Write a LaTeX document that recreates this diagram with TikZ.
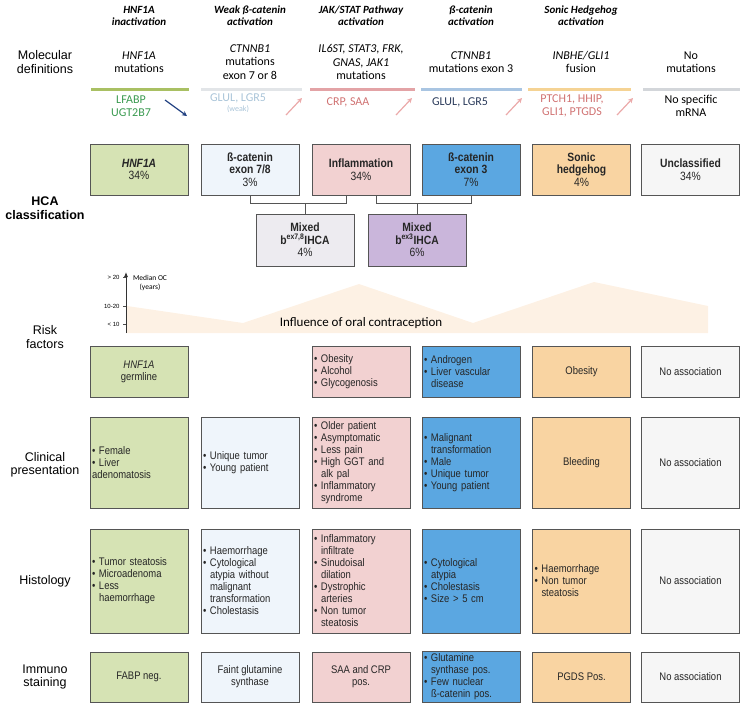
\documentclass[tikz,border=0pt]{standalone}
\usepackage{fontspec}
\setmainfont{Liberation Sans}
\newfontfamily\nar[FakeStretch=0.86]{Liberation Sans}
\newfontfamily\calfont{Carlito}
\usetikzlibrary{arrows.meta}
\definecolor{cgreen}{HTML}{D6E3B4}
\definecolor{cltblue}{HTML}{EFF5FB}
\definecolor{cpink}{HTML}{F2D1D1}
\definecolor{cblue}{HTML}{5BA7E1}
\definecolor{corange}{HTML}{F9D4A2}
\definecolor{cgray}{HTML}{F6F6F6}
\definecolor{cmix}{HTML}{EDEBF0}
\definecolor{cpurple}{HTML}{CAB6DB}
\definecolor{cborder}{HTML}{555555}
\definecolor{lgreen}{HTML}{A9C063}
\definecolor{lgray}{HTML}{E2E5E8}
\definecolor{lpink}{HTML}{E3A3A6}
\definecolor{lblue}{HTML}{A9C5E2}
\definecolor{lorange}{HTML}{F5D394}
\definecolor{lgray2}{HTML}{D3D6DA}
\definecolor{tgreen}{HTML}{3A9A50}
\definecolor{tlblue}{HTML}{A9C4D8}
\definecolor{tpink}{HTML}{D07272}
\definecolor{tnavy}{HTML}{2A3A5A}
\definecolor{apink}{HTML}{EBAAAA}
\definecolor{anavy}{HTML}{1F3F80}
\definecolor{ocfill}{HTML}{FDF1E4}
\newcommand{\bl}{\makebox[7pt][l]{\textbullet}}
\newcommand{\ind}{\hspace*{7pt}}
\tikzset{
  x=1pt,y=-1pt,
  cell/.style={draw=cborder,line width=1pt,minimum width=98pt,inner sep=2pt,font=\nar\fontsize{11}{12}\selectfont,text=black!85},
  cls/.style={cell,minimum height=51pt,font=\nar\fontsize{12}{12.5}\selectfont,align=center},
  lst/.style={cell,align=left,text width=94pt},
  ctr/.style={cell,align=center},
  rowlab/.style={font=\fontsize{12.5}{13.5}\selectfont,align=center},
  hdr/.style={font=\calfont\bfseries\itshape\fontsize{11}{12}\selectfont,align=center},
  mol/.style={font=\calfont\fontsize{12}{13.5}\selectfont,align=center},
  mk/.style={font=\calfont\fontsize{12}{13}\selectfont,align=center},
  mline/.style={line width=3pt},
  conn/.style={draw=cborder,line width=0.9pt},
  uparr/.style={draw=apink,line width=1.2pt,-{Stealth[length=5pt,width=5pt]}},
  tick/.style={font=\fontsize{6}{6}\selectfont,anchor=east}
}
\begin{document}
\begin{tikzpicture}
\useasboundingbox (0,0) rectangle (741,705);
% headers
\node[hdr] (h1) at (139,16) {HNF1A\\inactivation};
\node[hdr] (h2) at (250,16) {Weak ß-catenin\\activation};
\node[hdr] (h3) at (361,16) {JAK/STAT Pathway\\activation};
\node[hdr] (h4) at (471,16) {ß-catenin\\activation};
\node[hdr] (h5) at (581,16) {Sonic Hedgehog\\activation};
% row labels
\node[rowlab] (r1) at (45,62) {Molecular\\definitions};
\node[rowlab] (r2) at (45,208) {\bfseries HCA\\\bfseries classification};
\node[rowlab] (r3) at (45,337) {Risk\\factors};
\node[rowlab] (r4) at (45,465) {Clinical\\presentation};
\node[rowlab] (r5) at (45,581) {Histology};
\node[rowlab] (r6) at (45,677) {Immuno\\staining};
% molecular definitions
\node[mol] (m1) at (139,62) {\itshape HNF1A\\mutations};
\node[mol] (m2) at (250,62) {\itshape CTNNB1\\mutations\\exon 7 or 8};
\node[mol] (m3) at (361,62) {\itshape IL6ST, STAT3, FRK,\\\itshape GNAS, JAK1\\mutations};
\node[mol] (m4) at (471,62) {\itshape CTNNB1\\mutations exon 3};
\node[mol] (m5) at (581,62) {\itshape INBHE/GLI1\\fusion};
\node[mol] (m6) at (691,62) {No\\mutations};
\draw[mline,lgreen] (91,89) -- (189,89);
\draw[mline,lgray] (201,89) -- (302,89);
\draw[mline,lpink] (310,89) -- (415,89);
\draw[mline,lblue] (421,89) -- (522,89);
\draw[mline,lorange] (528,89) -- (631,89);
\draw[mline,lgray2] (643,89) -- (740,89);
\node[mk,text=tgreen] (k1) at (131,106) {LFABP\\UGT2B7};
\node[mk,text=tlblue] (k2) at (238,103) {GLUL, LGR5\\[-3pt]{\fontsize{8}{9}\selectfont(weak)}};
\node[mk,text=tpink] (k3) at (348,102) {CRP, SAA};
\node[mk,text=tnavy] (k4) at (460,102) {GLUL, LGR5};
\node[mk,text=tpink] (k5) at (572,106) {PTCH1, HHIP,\\GLI1, PTGDS};
\node[mk] (k6) at (691,106) {No specific\\mRNA};
\coordinate (a1s) at (165,100); \coordinate (a1e) at (187,116);
\draw[draw=anavy,line width=1.2pt,-{Stealth[length=5pt,width=5pt]}] (a1s) -- (a1e);
\foreach \xx [count=\i] in {286,396,506,617} {
  \coordinate (u\i s) at (\xx,115); \coordinate (u\i e) at (\xx+16,98);
  \draw[uparr] (u\i s) -- (u\i e);
}
% classification
\node[cls,fill=cgreen] (c1) at (139,169.5) {\textbf{\itshape HNF1A}\\34\%};
\node[cls,fill=cltblue] (c2) at (250,169.5) {\textbf{ß-catenin}\\\textbf{exon 7/8}\\3\%};
\node[cls,fill=cpink] (c3) at (361,169.5) {\textbf{Inflammation}\\34\%};
\node[cls,fill=cblue] (c4) at (471,169.5) {\textbf{ß-catenin}\\\textbf{exon 3}\\7\%};
\node[cls,fill=corange] (c5) at (581.5,169.5) {\textbf{Sonic}\\\textbf{hedgehog}\\4\%};
\node[cls,fill=cgray] (c6) at (690.5,169.5) {\textbf{Unclassified}\\34\%};
\node[cls,fill=cmix,minimum height=52pt] (x1) at (305,240) {\textbf{Mixed}\\\textbf{b\textsuperscript{ex7,8}IHCA}\\4\%};
\node[cls,fill=cpurple,minimum height=52pt] (x2) at (417,240) {\textbf{Mixed}\\\textbf{b\textsuperscript{ex3}IHCA}\\6\%};
\coordinate (j1) at (305,203); \coordinate (j2) at (417,203);
\draw[conn] (c2.south) -- (250,203) -- ([xshift=-15pt]c3.south |- j1) -- ([xshift=-15pt]c3.south);
\draw[conn] (j1) -- (x1.north);
\draw[conn] ([xshift=15pt]c3.south) -- ([xshift=15pt]c3.south |- j2) -- (c4.south |- j2) -- (c4.south);
\draw[conn] (j2) -- (x2.north);
% OC chart
\fill[ocfill] (127,306) -- (243,323) -- (359,284) -- (473,323) -- (594,282) -- (708,306) -- (708,333) -- (127,333) -- cycle;
\coordinate (ax0) at (126,333); \coordinate (ax1) at (126,272);
\draw[line width=0.8pt,black!80,-{Latex[length=5pt,width=4pt]}] (ax0) -- (ax1);
\foreach \yy/\tt [count=\i] in {277/{> 20},306/{10-20},324/{< 10}} {
  \coordinate (t\i) at (123,\yy);
  \draw[black!70,line width=0.5pt] (t\i) -- ++(3,0);
  \node[tick] at (t\i) {\tt};
}
\node[font=\calfont\fontsize{7.5}{8.5}\selectfont,align=center] (ocl) at (150,283) {Median OC\\(years)};
\node[font=\calfont\fontsize{13}{14}\selectfont] (oct) at (361,323) {Influence of oral contraception};
% risk factors
\node[ctr,fill=cgreen,minimum height=51pt] (rf1) at (139,371.5) {\itshape HNF1A\\germline};
\node[lst,fill=cpink,minimum height=51pt] (rf3) at (361,371.5) {\bl Obesity\\\bl Alcohol\\\bl Glycogenosis};
\node[lst,fill=cblue,minimum height=51pt] (rf4) at (471,371.5) {\bl Androgen\\\bl Liver vascular\\\ind disease};
\node[ctr,fill=corange,minimum height=51pt] (rf5) at (581.5,371.5) {Obesity};
\node[ctr,fill=cgray,minimum height=51pt] (rf6) at (690.5,371.5) {No association};
% clinical
\node[lst,fill=cgreen,minimum height=91pt] (cp1) at (139,462.5) {\bl Female\\\bl Liver\\adenomatosis};
\node[lst,fill=cltblue,minimum height=91pt] (cp2) at (250,462.5) {\bl Unique tumor\\\bl Young patient};
\node[lst,fill=cpink,minimum height=91pt] (cp3) at (361,462.5) {\bl Older patient\\\bl Asymptomatic\\\bl Less pain\\\bl High GGT and\\\ind alk pal\\\bl Inflammatory\\\ind syndrome};
\node[lst,fill=cblue,minimum height=91pt] (cp4) at (471,462.5) {\bl Malignant\\\ind transformation\\\bl Male\\\bl Unique tumor\\\bl Young patient};
\node[ctr,fill=corange,minimum height=91pt] (cp5) at (581.5,462.5) {Bleeding};
\node[ctr,fill=cgray,minimum height=91pt] (cp6) at (690.5,462.5) {No association};
% histology
\node[lst,fill=cgreen,minimum height=104pt] (hi1) at (139,581) {\bl Tumor steatosis\\\bl Microadenoma\\\bl Less\\\ind haemorrhage};
\node[lst,fill=cltblue,minimum height=104pt] (hi2) at (250,581) {\bl Haemorrhage\\\bl Cytological\\\ind atypia without\\\ind malignant\\\ind transformation\\\bl Cholestasis};
\node[lst,fill=cpink,minimum height=104pt] (hi3) at (361,581) {\bl Inflammatory\\\ind infiltrate\\\bl Sinudoisal\\\ind dilation\\\bl Dystrophic\\\ind arteries\\\bl Non tumor\\\ind steatosis};
\node[lst,fill=cblue,minimum height=104pt] (hi4) at (471,581) {\bl Cytological\\\ind atypia\\\bl Cholestasis\\\bl Size > 5 cm};
\node[lst,fill=corange,minimum height=104pt] (hi5) at (581.5,581) {\bl Haemorrhage\\\bl Non tumor\\\ind steatosis};
\node[ctr,fill=cgray,minimum height=104pt] (hi6) at (690.5,581) {No association};
% immuno
\node[ctr,fill=cgreen,minimum height=50pt] (im1) at (139,677) {FABP neg.};
\node[ctr,fill=cltblue,minimum height=50pt] (im2) at (250,677) {Faint glutamine\\synthase};
\node[ctr,fill=cpink,minimum height=50pt] (im3) at (361,677) {SAA and CRP\\pos.};
\node[lst,fill=cblue,minimum height=50pt] (im4) at (471,677) {\bl Glutamine\\\ind synthase pos.\\\bl Few nuclear\\\ind ß-catenin pos.};
\node[ctr,fill=corange,minimum height=50pt] (im5) at (581.5,677) {PGDS Pos.};
\node[ctr,fill=cgray,minimum height=50pt] (im6) at (690.5,677) {No association};
\end{tikzpicture}
\end{document}
